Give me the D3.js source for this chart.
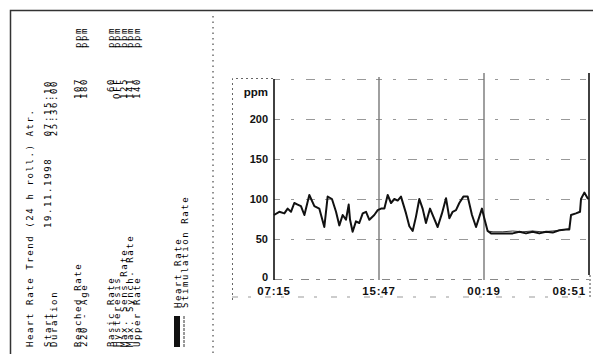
<!DOCTYPE html>
<html><head><meta charset="utf-8">
<script src="https://cdn.jsdelivr.net/npm/d3@7"></script>
<style>
html,body{margin:0;padding:0;background:#fff;}
svg{display:block;}
.lp{font-family:"DejaVu Sans Mono",monospace;font-size:9px;letter-spacing:1.6px;fill:#000;}
.ax{font-family:"Liberation Sans",Arial,sans-serif;font-weight:bold;fill:#111;}
</style></head>
<body>
<script>
// ---- data ----
const startTime = new Date(1998, 10, 19, 7, 15);
const endTime = new Date(1998, 10, 20, 8, 51);
const xTickLabels = ["07:15", "15:47", "00:19", "08:51"];
const yTicks = [0, 50, 100, 150, 200];
const yGrid = [50, 100, 150, 200, 250];
// hours since 07:15
const hrHours = [0.00,0.43,0.84,1.11,1.38,1.65,1.92,2.19,2.47,2.87,3.28,3.68,4.09,4.36,4.71,5.04,5.31,5.58,5.85,6.07,6.18,6.39,6.66,6.93,7.21,7.48,7.75,8.15,8.43,8.70,8.97,9.24,9.51,9.78,10.05,10.32,10.73,11.00,11.27,11.54,11.81,12.08,12.35,12.68,12.95,13.30,13.65,13.98,14.25,14.52,14.79,15.06,15.39,15.74,16.09,16.42,16.69,16.90,17.09,17.36,17.64,18.04,18.58,19.40,19.94,20.48,21.02,21.56,22.11,22.65,23.19,23.73,24.00,24.14,24.54,24.87,24.95,25.22,25.49,25.57];
const heartRate = [80,84,82,88,84,95,93,91,80,105,91,88,65,103,100,84,67,80,74,93,74,59,72,70,82,84,74,80,86,88,88,105,95,100,98,103,82,66,60,78,100,88,70,88,78,65,82,101,76,84,86,95,103,103,80,65,78,88,76,60,57,57,57,57,59,57,59,57,59,58,61,62,62,80,82,84,100,108,101,100];
const stimHours = [17.36,17.80,18.60,19.40,20.20,21.00,21.80,22.60,23.40,24.00];
const stimRate = [60,59,59,60,59,60,59,60,61,63];

const titleText = "Heart Rate Trend (24 h roll.) Atr.";
const infoLabels = ["Start", "Duration"];
const infoDates = ["19.11.1998", ""];
const infoTimes = ["07:15:10", "25:36:00"];
const reachLabels = ["Reached Rate", "220 - Age"];
const reachValues = ["107", "180"];
const progLabels = ["Basic Rate", "Hysteresis", "Max. Sens Rate", "Max. Synch. Rate", "Upper Rate"];
const progValues = ["60", "OFF", "125", "141", "140"];
const unit = "ppm";
const legendLabels = ["Heart Rate", "Stimulation Rate"];

// ---- drawing ----
const W = 593, H = 354;
const svg = d3.select("body").append("svg").attr("width", W).attr("height", H);

// page border
svg.append("path").attr("d", `M10.5,354 V10.5 H593`).attr("fill","none").attr("stroke","#333").attr("stroke-width",1.5);
// vertical separator
svg.append("line").attr("x1",213).attr("x2",213).attr("y1",16).attr("y2",354)
  .attr("stroke","#222").attr("stroke-width",1).attr("stroke-dasharray","1.5,4");

// left panel (rotated text)
function rtext(x, y, txt, anchor) {
  svg.append("text").attr("class","lp")
    .attr("transform", `translate(${x},${y}) rotate(-90)`)
    .attr("text-anchor", anchor || "start").text(txt);
}
const y0 = 347;
rtext(32.5, y0, titleText);
infoLabels.forEach((t,i)=>{ rtext(50.5+i*6.5, y0, t); });
infoDates.forEach((t,i)=>{ if(t) rtext(50.5+i*6.5, 228, t); });
infoTimes.forEach((t,i)=>{ rtext(50.5+i*6.5, 80, t, "end"); });
reachLabels.forEach((t,i)=>{ rtext(80.5+i*6.5, y0, t); });
reachValues.forEach((t,i)=>{ rtext(80.5+i*6.5, 78, t, "end"); rtext(80.5+i*6.5, 48, unit); });
progLabels.forEach((t,i)=>{ rtext(113.5+i*6.5, y0, t); });
progValues.forEach((t,i)=>{ rtext(113.5+i*6.5, 78, t, "end"); rtext(113.5+i*6.5, 48, unit); });
// legend
svg.append("rect").attr("x",174).attr("y",316).attr("width",6).attr("height",31).attr("fill","#111");
svg.append("line").attr("x1",184).attr("x2",184).attr("y1",316).attr("y2",347)
  .attr("stroke","#333").attr("stroke-width",1).attr("stroke-dasharray","3,1");
legendLabels.forEach((t,i)=>{ rtext(181+i*7, 308, t); });

// chart
const x = d3.scaleTime().domain([startTime, endTime]).range([274, 589]);
const y = d3.scaleLinear().domain([0, 250]).range([279, 79]);
const toDate = h => new Date(startTime.getTime() + h*3600*1000);
const tickDates = xTickLabels.map((t,i)=> toDate(i*(25+36/60)/3));

// outer frame of chart
svg.append("path").attr("d", `M232.5,300 V78.5 H274`).attr("fill","none")
  .attr("stroke","#666").attr("stroke-width",1).attr("stroke-dasharray","2,3");
svg.append("line").attr("x1",232).attr("x2",592).attr("y1",297).attr("y2",297)
  .attr("stroke","#999").attr("stroke-width",1).attr("stroke-dasharray","6,10,3,14");

// horizontal grid
const g = svg.append("g");
g.selectAll("line.h").data(yGrid).join("line").attr("class","h")
  .attr("x1", x(startTime)).attr("x2", x(endTime))
  .attr("y1", d=>y(d)+0.5).attr("y2", d=>y(d)+0.5)
  .attr("stroke","#999").attr("stroke-width",1).attr("stroke-dasharray","6,11,3,12,9,10");
// baseline
g.append("line").attr("x1", x(startTime)).attr("x2", x(endTime)).attr("y1", y(0)+0.5).attr("y2", y(0)+0.5)
  .attr("stroke","#888").attr("stroke-width",1).attr("stroke-dasharray","8,7,4,8");

// vertical lines
g.selectAll("line.v").data(tickDates).join("line").attr("class","v")
  .attr("x1", d=>x(d)).attr("x2", d=>x(d))
  .attr("y1", (d,i)=> i===0 ? y(250) : (i===1 ? 77 : 73))
  .attr("y2", (d,i)=> i===3 ? 275 : y(0)+1)
  .attr("stroke", (d,i)=> (i===0||i===3) ? "#111" : "#777")
  .attr("stroke-width", (d,i)=> (i===0||i===3) ? 1.6 : 1.4);
g.append("line").attr("x1", x(endTime)+1).attr("x2", x(endTime)+1).attr("y1", 275).attr("y2", 298)
  .attr("stroke","#444").attr("stroke-dasharray","2,2");

// y labels
svg.append("text").attr("class","ax").attr("x",268).attr("y",96).attr("text-anchor","end")
  .attr("font-size",11.5).text(unit);
svg.selectAll("text.yt").data(yTicks).join("text").attr("class","ax yt")
  .attr("x",268).attr("y", d=> d===0 ? y(d)+2 : y(d)+4).attr("text-anchor","end")
  .attr("font-size",11).text(d=>d);
// x labels
svg.selectAll("text.xt").data(tickDates).join("text").attr("class","ax xt")
  .attr("x", (d,i)=> i===3 ? x(d)-3 : x(d)).attr("y",294.5)
  .attr("text-anchor", (d,i)=> i===3 ? "end" : "middle")
  .attr("font-size",11.5).attr("letter-spacing",0.8)
  .text((d,i)=> xTickLabels[i]);

// series
const line = d3.line().x(d=>x(toDate(d[0]))).y(d=>y(d[1]));
svg.append("path").datum(stimHours.map((h,i)=>[h, stimRate[i]]))
  .attr("d", line).attr("fill","none").attr("stroke","#333").attr("stroke-width",1);
svg.append("path").datum(hrHours.map((h,i)=>[h, heartRate[i]]))
  .attr("d", line).attr("fill","none").attr("stroke","#111").attr("stroke-width",2).attr("stroke-linejoin","round");
</script>
</body></html>
